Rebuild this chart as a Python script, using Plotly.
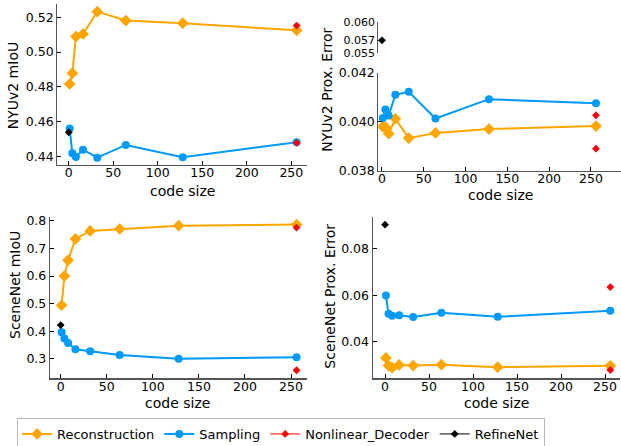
import plotly.graph_objects as go

code_sizes = [1, 4, 8, 16, 32, 64, 128, 256]

nyu_miou_recon = [0.4817, 0.4879, 0.5089, 0.5104, 0.5232, 0.5181, 0.5166, 0.5125]
nyu_miou_samp = [0.4561, 0.4419, 0.4398, 0.4440, 0.4394, 0.4467, 0.4397, 0.4483]
nyu_miou_nonlin = [0.5152, 0.4479]
nyu_miou_refine = [0.4540]

nyu_prox_recon = [0.03980, 0.03978, 0.03951, 0.04012, 0.03933, 0.03954, 0.03970, 0.03982]
nyu_prox_samp = [0.04015, 0.04050, 0.04025, 0.04110, 0.04122, 0.04013, 0.04092, 0.04075]
nyu_prox_nonlin = [0.04026, 0.03890]
nyu_prox_refine = [0.0570]

sn_miou_recon = [0.494, 0.600, 0.657, 0.735, 0.764, 0.771, 0.783, 0.787]
sn_miou_samp = [0.396, 0.373, 0.357, 0.334, 0.327, 0.313, 0.300, 0.305]
sn_miou_nonlin = [0.776, 0.258]
sn_miou_refine = [0.422]

sn_prox_recon = [0.0328, 0.0295, 0.0286, 0.0298, 0.0295, 0.0299, 0.0288, 0.0294]
sn_prox_samp = [0.0598, 0.0519, 0.0511, 0.0513, 0.0505, 0.0524, 0.0506, 0.0532]
sn_prox_nonlin = [0.0635, 0.0276]
sn_prox_refine = [0.0905]

nonlin_code_size = 256
refine_code_size = 0

ORANGE = "#FFA500"
BLUE = "#009AFA"
RED = "#FF0000"
BLACK = "#000000"

W, H = 621, 446
FONT = "DejaVu Sans"

fig = go.Figure()


def add_nonlin(xa, ya, vals, show):
    # separate points (gap between them) so no connecting line is drawn
    xs, ys = [], []
    for i, v in enumerate(vals):
        if i:
            xs.append(None)
            ys.append(None)
        xs.append(nonlin_code_size)
        ys.append(v)
    fig.add_trace(go.Scatter(
        x=xs, y=ys, mode="lines+markers", name="Nonlinear_Decoder",
        legendgroup="n", showlegend=show, connectgaps=False,
        line=dict(color=RED, width=1),
        marker=dict(symbol="diamond", size=6, color=RED, line=dict(width=0)),
        xaxis=xa, yaxis=ya))


def add_refine(xa, ya, vals, show):
    fig.add_trace(go.Scatter(
        x=[refine_code_size] * len(vals), y=vals, mode="lines+markers", name="RefineNet",
        legendgroup="b", showlegend=show,
        line=dict(color=BLACK, width=1),
        marker=dict(symbol="diamond", size=6, color=BLACK, line=dict(width=0)),
        xaxis=xa, yaxis=ya))


def add_panel(xa, ya, recon, samp, nonlin, refine, first=False):
    fig.add_trace(go.Scatter(
        x=code_sizes, y=recon, mode="lines+markers", name="Reconstruction",
        line=dict(color=ORANGE, width=2), legendgroup="r", showlegend=first,
        marker=dict(symbol="diamond", size=9, color=ORANGE, line=dict(width=0)),
        xaxis=xa, yaxis=ya))
    fig.add_trace(go.Scatter(
        x=code_sizes, y=samp, mode="lines+markers", name="Sampling",
        line=dict(color=BLUE, width=2), legendgroup="s", showlegend=first,
        marker=dict(symbol="circle", size=8, color=BLUE, line=dict(width=0)),
        xaxis=xa, yaxis=ya))
    add_nonlin(xa, ya, nonlin, first)
    if refine is not None:
        add_refine(xa, ya, refine, first)


add_panel("x", "y", nyu_miou_recon, nyu_miou_samp, nyu_miou_nonlin, nyu_miou_refine, first=True)
add_panel("x2", "y2", nyu_prox_recon, nyu_prox_samp, nyu_prox_nonlin, None)
add_refine("x5", "y5", nyu_prox_refine, False)  # broken-axis upper part
add_panel("x3", "y3", sn_miou_recon, sn_miou_samp, sn_miou_nonlin, sn_miou_refine)
add_panel("x4", "y4", sn_prox_recon, sn_prox_samp, sn_prox_nonlin, sn_prox_refine)


def px_x(a, b):
    return [a / W, b / W]


def px_y(top, bottom):
    return [1 - bottom / H, 1 - top / H]


tickfont = dict(family=FONT, size=12.5, color="black")
ax_common = dict(showline=True, linecolor="#555555", linewidth=1.2, ticks="inside",
                 ticklen=4, tickcolor="black", tickwidth=1, showgrid=False, zeroline=False,
                 tickfont=tickfont, mirror=False, automargin=False)
x_common = dict(ax_common, ticklabelstandoff=-4)
upper_common = dict(ax_common, tickfont=dict(family=FONT, size=11, color="black"))

xticks = [0, 50, 100, 150, 200, 250]

fig.update_layout(
    width=W, height=H, margin=dict(l=0, r=0, t=0, b=0, autoexpand=False),
    paper_bgcolor="white", plot_bgcolor="white",
    font=dict(family=FONT, size=13, color="black"),
    hovermode=False,
    xaxis=dict(domain=px_x(57.3, 306.7), range=[-12.9, 267.3], tickvals=xticks, anchor="y", **x_common),
    yaxis=dict(domain=px_y(4, 165), range=[0.4352, 0.5276], tickvals=[0.44, 0.46, 0.48, 0.50, 0.52],
               tickformat=".2f", anchor="x", **ax_common),
    xaxis2=dict(domain=px_x(378.3, 621), range=[-4.4, 286], tickvals=xticks, anchor="y2", **x_common),
    yaxis2=dict(domain=px_y(72.7, 170.7), range=[0.038, 0.042], tickvals=[0.038, 0.040, 0.042],
                tickformat=".3f", anchor="x2", **ax_common),
    xaxis5=dict(domain=px_x(378.3, 621), range=[-4.4, 286], visible=False, anchor="y5"),
    yaxis5=dict(domain=px_y(21.7, 52.7), range=[0.055, 0.060], tickvals=[0.055, 0.057, 0.060],
                ticktext=["0.055", "0.057", "0.060"], anchor="x5", **upper_common),
    xaxis3=dict(domain=px_x(50, 306.7), range=[-11.6, 267], tickvals=xticks, anchor="y3", **x_common),
    yaxis3=dict(domain=px_y(217.3, 378.3), range=[0.2288, 0.8134], tickvals=[0.3, 0.4, 0.5, 0.6, 0.7, 0.8],
                tickformat=".1f", anchor="x3", **ax_common),
    xaxis4=dict(domain=px_x(372.7, 620), range=[-14, 267], tickvals=xticks, anchor="y4", **x_common),
    yaxis4=dict(domain=px_y(217.3, 378.3), range=[0.024, 0.0937], tickvals=[0.04, 0.06, 0.08],
                tickformat=".2f", anchor="x4", **ax_common),
    legend=dict(orientation="h", x=17 / W, y=1 - 418 / H, xanchor="left", yanchor="top",
                bordercolor="#BBBBBB", borderwidth=1, bgcolor="white",
                font=dict(family=FONT, size=13, color="black"), itemwidth=30),
    showlegend=True,
)

titles = [
    ("code size", 182, 191, 0),
    ("code size", 500, 195, 0),
    ("code size", 177.7, 402.5, 0),
    ("code size", 496.7, 403, 0),
    ("NYUv2 mIoU", 13.3, 85, -90),
    ("SceneNet mIoU", 15, 285, -90),
    ("NYUv2 Prox. Error", 326.7, 90, -90),
    ("SceneNet Prox. Error", 330, 296.7, -90),
]
for text, xc, yc, ang in titles:
    fig.add_annotation(text=text, x=xc / W, y=1 - yc / H, xref="paper", yref="paper",
                       showarrow=False, textangle=ang, xanchor="center", yanchor="middle",
                       font=dict(family=FONT, size=14, color="black"))

fig.write_html(
    "out.html",
    config={"displayModeBar": False, "staticPlot": True},
    post_script="document.body.style.margin='0';document.body.style.padding='0';"
                "document.body.style.overflow='hidden';",
)
